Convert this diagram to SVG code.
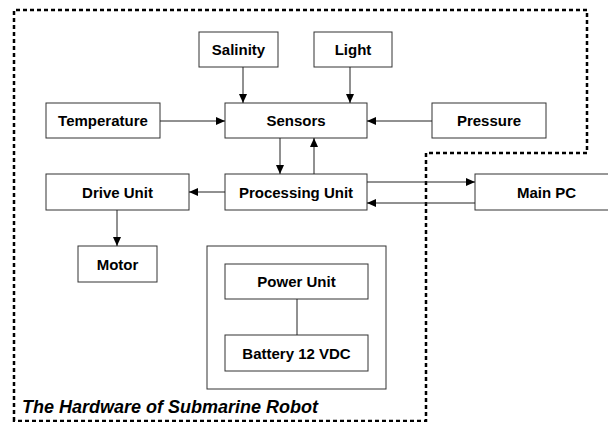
<svg xmlns="http://www.w3.org/2000/svg" width="608" height="422" viewBox="0 0 608 422">
<style>
.box{fill:#fff;stroke:#333;stroke-width:1}
.lbl{font-family:"Liberation Sans",Arial,sans-serif;font-weight:bold;font-size:15px;fill:#000;text-anchor:middle}
.ttl{font-family:"Liberation Sans",Arial,sans-serif;font-weight:bold;font-style:italic;font-size:18px;fill:#000}
.cn{stroke:#222;stroke-width:1;fill:none}
.arr{marker-end:url(#ah)}
.border{fill:none;stroke:#000;stroke-width:2.5;stroke-dasharray:4 3}
</style>
<defs>
<marker id="ah" markerUnits="userSpaceOnUse" markerWidth="9" markerHeight="8" refX="9" refY="4" orient="auto">
<path d="M0,0 L9,4 L0,8 z" fill="#000"/>
</marker>
</defs>
<rect width="608" height="422" fill="#fff"/>
<path class="border" d="M14,421 L14,10 L587,10 L587,153 L426,153 L426,421 Z"/>
<g id="salinity"><rect class="box" x="199" y="32" width="79" height="35"/><text class="lbl" x="238.5" y="55">Salinity</text></g>
<g id="light"><rect class="box" x="314" y="32" width="78" height="35"/><text class="lbl" x="353" y="55">Light</text></g>
<g id="temperature"><rect class="box" x="46" y="103" width="114" height="35"/><text class="lbl" x="103" y="126">Temperature</text></g>
<g id="sensors"><rect class="box" x="225" y="103" width="142" height="35"/><text class="lbl" x="296" y="126">Sensors</text></g>
<g id="pressure"><rect class="box" x="432" y="103" width="114" height="35"/><text class="lbl" x="489" y="126">Pressure</text></g>
<g id="drive"><rect class="box" x="46" y="174" width="143" height="36"/><text class="lbl" x="117.5" y="197.5">Drive Unit</text></g>
<g id="processing"><rect class="box" x="225" y="174" width="142" height="36"/><text class="lbl" x="296" y="197.5">Processing Unit</text></g>
<g id="mainpc"><rect class="box" x="475" y="174" width="145" height="36"/><text class="lbl" x="546.5" y="197.5">Main PC</text></g>
<g id="motor"><rect class="box" x="78" y="246" width="79" height="36"/><text class="lbl" x="117.5" y="269.5">Motor</text></g>
<g id="powergroup"><rect class="box" x="207" y="246" width="179" height="143"/></g>
<g id="power"><rect class="box" x="225" y="264" width="143" height="35"/><text class="lbl" x="296.5" y="287">Power Unit</text></g>
<g id="battery"><rect class="box" x="225" y="335" width="143" height="36"/><text class="lbl" x="296.5" y="358.5">Battery 12 VDC</text></g>
<g id="connectors">
<line class="cn arr" x1="243" y1="67" x2="243" y2="103"/>
<line class="cn arr" x1="350" y1="67" x2="350" y2="103"/>
<line class="cn arr" x1="160" y1="121" x2="225" y2="121"/>
<line class="cn arr" x1="432" y1="121" x2="367" y2="121"/>
<line class="cn arr" x1="280" y1="138" x2="280" y2="174"/>
<line class="cn arr" x1="314" y1="174" x2="314" y2="138"/>
<line class="cn arr" x1="225" y1="192" x2="189" y2="192"/>
<line class="cn arr" x1="117" y1="210" x2="117" y2="246"/>
<line class="cn arr" x1="367" y1="182" x2="475" y2="182"/>
<line class="cn arr" x1="475" y1="203" x2="367" y2="203"/>
<line class="cn" x1="297" y1="299" x2="297" y2="335"/>
</g>
<text class="ttl" x="22" y="413">The Hardware of Submarine Robot</text>
</svg>
